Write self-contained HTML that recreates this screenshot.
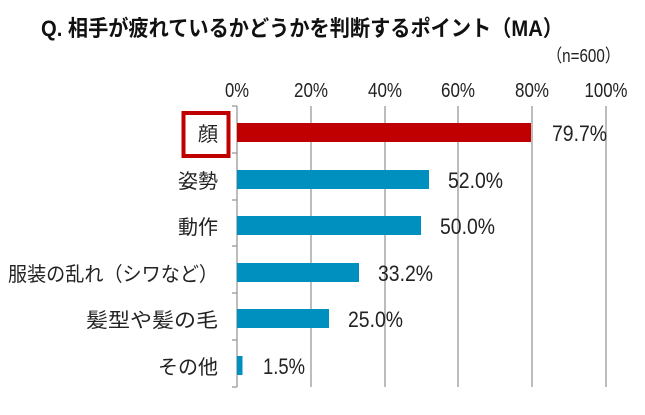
<!DOCTYPE html>
<html><head><meta charset="utf-8"><style>
body{margin:0;background:#fff;}
svg text{font-family:"Liberation Sans","Noto Sans CJK JP",sans-serif;}
</style></head><body>
<svg width="645" height="410" viewBox="0 0 645 410" xmlns="http://www.w3.org/2000/svg">
<rect width="645" height="410" fill="#fff"/>
<text x="41" y="36" font-size="22" font-weight="bold" fill="#111" textLength="522" lengthAdjust="spacingAndGlyphs">Q. 相手が疲れているかどうかを判断するポイント（MA）</text>
<text x="547" y="62" font-size="18" fill="#222" textLength="73" lengthAdjust="spacingAndGlyphs">（n=600）</text>
<g font-size="20" fill="#222" text-anchor="middle">
<text x="237" y="97" textLength="24" lengthAdjust="spacingAndGlyphs">0%</text>
<text x="311" y="97" textLength="34" lengthAdjust="spacingAndGlyphs">20%</text>
<text x="385" y="97" textLength="34" lengthAdjust="spacingAndGlyphs">40%</text>
<text x="458" y="97" textLength="34" lengthAdjust="spacingAndGlyphs">60%</text>
<text x="532" y="97" textLength="34" lengthAdjust="spacingAndGlyphs">80%</text>
<text x="606" y="97" textLength="43" lengthAdjust="spacingAndGlyphs">100%</text>
</g>
<g stroke="#999" stroke-width="1.3">
<line x1="237" y1="106" x2="237" y2="387"/>
<line x1="311" y1="106" x2="311" y2="387"/>
<line x1="385" y1="106" x2="385" y2="387"/>
<line x1="458" y1="106" x2="458" y2="387"/>
<line x1="532" y1="106" x2="532" y2="387"/>
<line x1="606" y1="106" x2="606" y2="387"/>
<line x1="232" y1="106" x2="237" y2="106"/>
<line x1="232" y1="153" x2="237" y2="153"/>
<line x1="232" y1="200" x2="237" y2="200"/>
<line x1="232" y1="246" x2="237" y2="246"/>
<line x1="232" y1="293" x2="237" y2="293"/>
<line x1="232" y1="340" x2="237" y2="340"/>
<line x1="232" y1="387" x2="237" y2="387"/>
</g>
<rect x="237" y="123" width="294" height="19" fill="#c00000"/>
<rect x="237" y="170" width="192" height="19" fill="#0090c0"/>
<rect x="237" y="216" width="184" height="19" fill="#0090c0"/>
<rect x="237" y="263" width="122" height="19" fill="#0090c0"/>
<rect x="237" y="309" width="92" height="19" fill="#0090c0"/>
<rect x="237" y="356" width="5.5" height="19" fill="#0090c0"/>
<rect x="183.5" y="113" width="45" height="43" fill="#fff" stroke="#c00000" stroke-width="4"/>
<g font-size="20" fill="#222" text-anchor="end">
<text x="218" y="141">顔</text>
<text x="218" y="188">姿勢</text>
<text x="218" y="234">動作</text>
<text x="218" y="281" textLength="210" lengthAdjust="spacingAndGlyphs">服装の乱れ（シワなど）</text>
<text x="218" y="327" textLength="132" lengthAdjust="spacingAndGlyphs">髪型や髪の毛</text>
<text x="218" y="374">その他</text>
</g>
<g font-size="22" fill="#222">
<text x="552" y="141" textLength="55" lengthAdjust="spacingAndGlyphs">79.7%</text>
<text x="448" y="188" textLength="55" lengthAdjust="spacingAndGlyphs">52.0%</text>
<text x="440" y="234" textLength="55" lengthAdjust="spacingAndGlyphs">50.0%</text>
<text x="378" y="281" textLength="55" lengthAdjust="spacingAndGlyphs">33.2%</text>
<text x="348" y="327" textLength="55" lengthAdjust="spacingAndGlyphs">25.0%</text>
<text x="263" y="374" textLength="42" lengthAdjust="spacingAndGlyphs">1.5%</text>
</g>
</svg>
</body></html>
